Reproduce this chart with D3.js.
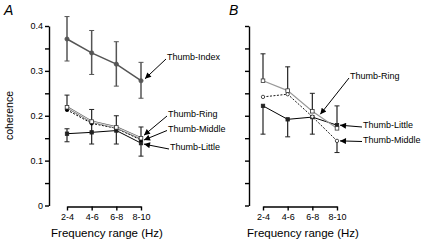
<!DOCTYPE html>
<html lang="en">
  <head>
    <meta charset="utf-8" />
    <title>coherence by frequency range</title>
    <script src="https://cdnjs.cloudflare.com/ajax/libs/d3/7.8.5/d3.min.js"></script>
    <style type="text/css">
      body {
        margin: 0;
        background: #fff;
      }
      svg {
        font-family: "Liberation Sans", Arial, Helvetica, sans-serif;
      }
      .axis path,
      .axis line {
        stroke: #000;
        stroke-width: 1.4;
      }
      .axis text {
        font-size: 9px;
        fill: #000;
      }
      .axisLabel {
        font-size: 11.5px;
      }
      .tag {
        font-size: 9px;
      }
      .panelLetter {
        font-size: 14px;
        font-style: italic;
      }
    </style>
  </head>

  <body>
    <div id="chart"></div>

    <script>
      // frequency bands (x categories)
      const cats = ["2-4", "4-6", "6-8", "8-10"];
      const yTicks = [0, 0.05, 0.1, 0.15, 0.2, 0.25, 0.3, 0.35, 0.4];

      // panel A
      const aIndex = [0.371, 0.34, 0.315, 0.278];
      const aIndexLo = [0.322, 0.292, 0.266, 0.239];
      const aIndexHi = [0.421, 0.39, 0.365, 0.319];
      const aRing = [0.219, 0.187, 0.174, 0.15];
      const aRingHi = [0.246, 0.214, null, null];
      const aMiddle = [0.213, 0.183, 0.172, 0.146];
      const aLittle = [0.16, 0.163, 0.167, 0.139];
      const aLittleLo = [0.142, 0.137, 0.137, 0.11];
      const aLittleHi = [0.171, 0.188, 0.2, 0.175];

      // panel B
      const bRing = [0.278, 0.256, 0.21, 0.172];
      const bRingHi = [0.338, 0.309, 0.25, null];
      const bMiddle = [0.242, 0.248, 0.198, 0.144];
      const bMiddleLo = [null, null, null, 0.118];
      const bLittle = [0.222, 0.192, 0.197, 0.179];
      const bLittleLo = [0.159, 0.153, 0.159, null];
      const bLittleHi = [null, null, null, 0.222];

      const width = 424;
      const height = 240;

      const svg = d3
        .select("#chart")
        .append("svg")
        .attr("width", width)
        .attr("height", height);

      // arrow head
      svg
        .append("defs")
        .append("marker")
        .attr("id", "arrow")
        .attr("viewBox", "0 0 10 10")
        .attr("refX", 10)
        .attr("refY", 5)
        .attr("markerUnits", "userSpaceOnUse")
        .attr("markerWidth", 8)
        .attr("markerHeight", 6)
        .attr("orient", "auto")
        .append("path")
        .attr("d", "M0,0 L10,5 L0,10 Z")
        .attr("fill", "#000");

      const y = d3.scaleLinear().domain([0, 0.4]).range([205.5, 26]);

      const panels = [
        {
          letter: "A",
          letterX: 4,
          axisX: 49,
          x: d3.scalePoint().domain(cats).range([67, 141]),
          labels: true,
          series: [
            { v: aIndex, lo: aIndexLo, hi: aIndexHi, stroke: "#555", width: 1.5, dash: null, mark: "circle", r: 2.1, fill: "#555", errColor: "#555", errWidth: 1.5 },
            { v: aLittle, lo: aLittleLo, hi: aLittleHi, stroke: "#000", width: 1, dash: null, mark: "square", r: 1.7, fill: "#222", errColor: "#222", errWidth: 1.2 },
            { v: aMiddle, lo: null, hi: null, stroke: "#000", width: 1, dash: "2,1.5", mark: "circle", r: 1.7, fill: "#000" },
            { v: aRing, lo: null, hi: aRingHi, stroke: "#666", width: 2.2, inner: "#fff", dash: null, mark: "square", r: 1.8, fill: "#fff", markStroke: "#333", errColor: "#222", errWidth: 1.2 },
          ],
          tags: [
            { text: "Thumb-Index", v: aIndex, i: 3, dx: 4, dy: -2, tx: 167, ty: 57 },
            { text: "Thumb-Ring", v: aRing, i: 3, dx: 3, dy: -3, tx: 168, ty: 114 },
            { text: "Thumb-Middle", v: aMiddle, i: 3, dx: 3, dy: 0, tx: 168, ty: 128.5 },
            { text: "Thumb-Little", v: aLittle, i: 3, dx: 3, dy: 1, tx: 170, ty: 147 },
          ],
        },
        {
          letter: "B",
          letterX: 229,
          axisX: 249,
          x: d3.scalePoint().domain(cats).range([263, 337]),
          labels: false,
          series: [
            { v: bLittle, lo: bLittleLo, hi: bLittleHi, stroke: "#000", width: 1, dash: null, mark: "square", r: 1.7, fill: "#222", errColor: "#222", errWidth: 1.2 },
            { v: bMiddle, lo: bMiddleLo, hi: null, stroke: "#000", width: 0.9, dash: "2,1.5", mark: "circle", r: 1.7, fill: "#fff", markStroke: "#222", errColor: "#222", errWidth: 1.2 },
            { v: bRing, lo: null, hi: bRingHi, stroke: "#999", width: 1.2, dash: null, mark: "square", r: 1.8, fill: "#fff", markStroke: "#333", errColor: "#222", errWidth: 1.2 },
          ],
          tags: [
            { text: "Thumb-Ring", v: bRing, i: 2, dx: 8, dy: 3, tx: 350, ty: 76 },
            { text: "Thumb-Little", v: bLittle, i: 3, dx: 3, dy: 0, tx: 363, ty: 125 },
            { text: "Thumb-Middle", v: bMiddle, i: 3, dx: 3, dy: 0, tx: 363, ty: 139.5 },
          ],
        },
      ];

      panels.forEach((p) => {
        const g = svg.append("g");
        const x = p.x;

        // y axis
        const yAxis = d3
          .axisLeft(y)
          .tickValues(yTicks)
          .tickSize(4)
          .tickSizeOuter(0)
          .tickPadding(2)
          .tickFormat((d) => {
            if (!p.labels) return "";
            const r = Math.round(d * 100);
            if (r % 10 !== 0) return "";
            return r === 0 ? "0" : d3.format(".1f")(d);
          });
        g.append("g")
          .attr("class", "axis")
          .attr("transform", `translate(${p.axisX},0)`)
          .call(yAxis);

        // x axis
        const xAxis = d3.axisBottom(x).tickSize(4).tickSizeOuter(0).tickPadding(3);
        g.append("g")
          .attr("class", "axis")
          .attr("transform", "translate(0,206.5)")
          .call(xAxis);

        g.append("text")
          .attr("class", "axisLabel")
          .attr("x", (x.range()[0] + x.range()[1]) / 2 + 3)
          .attr("y", 237)
          .attr("text-anchor", "middle")
          .text("Frequency range (Hz)");

        g.append("text")
          .attr("class", "panelLetter")
          .attr("x", p.letterX)
          .attr("y", 15)
          .text(p.letter);

        const line = d3
          .line()
          .x((d, i) => x(cats[i]))
          .y((d) => y(d));

        p.series.forEach((s) => {
          // error bars
          cats.forEach((c, i) => {
            const ends = [];
            if (s.lo && s.lo[i] != null) ends.push(s.lo[i]);
            if (s.hi && s.hi[i] != null) ends.push(s.hi[i]);
            ends.forEach((e) => {
              g.append("line")
                .attr("x1", x(c))
                .attr("x2", x(c))
                .attr("y1", y(s.v[i]))
                .attr("y2", y(e))
                .attr("stroke", s.errColor)
                .attr("stroke-width", s.errWidth);
              g.append("line")
                .attr("x1", x(c) - 2.5)
                .attr("x2", x(c) + 2.5)
                .attr("y1", y(e))
                .attr("y2", y(e))
                .attr("stroke", s.errColor)
                .attr("stroke-width", 1);
            });
          });

          g.append("path")
            .datum(s.v)
            .attr("fill", "none")
            .attr("stroke", s.stroke)
            .attr("stroke-width", s.width)
            .attr("stroke-dasharray", s.dash)
            .attr("d", line);

          // hollow line look
          if (s.inner) {
            g.append("path")
              .datum(s.v)
              .attr("fill", "none")
              .attr("stroke", s.inner)
              .attr("stroke-width", 0.8)
              .attr("d", line);
          }

          s.v.forEach((d, i) => {
            if (s.mark === "circle") {
              g.append("circle")
                .attr("cx", x(cats[i]))
                .attr("cy", y(d))
                .attr("r", s.r)
                .attr("fill", s.fill)
                .attr("stroke", s.markStroke || s.fill)
                .attr("stroke-width", 0.8);
            } else {
              g.append("rect")
                .attr("x", x(cats[i]) - s.r)
                .attr("y", y(d) - s.r)
                .attr("width", s.r * 2)
                .attr("height", s.r * 2)
                .attr("fill", s.fill)
                .attr("stroke", s.markStroke || s.fill)
                .attr("stroke-width", 0.8);
            }
          });
        });

        // labels with arrows
        p.tags.forEach((t) => {
          g.append("line")
            .attr("x1", t.tx - 1)
            .attr("y1", t.ty + 2)
            .attr("x2", x(cats[t.i]) + t.dx)
            .attr("y2", y(t.v[t.i]) + t.dy)
            .attr("stroke", "#000")
            .attr("stroke-width", 1)
            .attr("marker-end", "url(#arrow)");
          g.append("text")
            .attr("class", "tag")
            .attr("x", t.tx)
            .attr("y", t.ty)
            .attr("dy", "0.35em")
            .text(t.text);
        });
      });

      // shared y label
      svg
        .append("text")
        .attr("class", "axisLabel")
        .attr("transform", "translate(13,115.5) rotate(-90)")
        .attr("text-anchor", "middle")
        .style("font-size", "10.5px")
        .text("coherence");
    </script>
  </body>
</html>
